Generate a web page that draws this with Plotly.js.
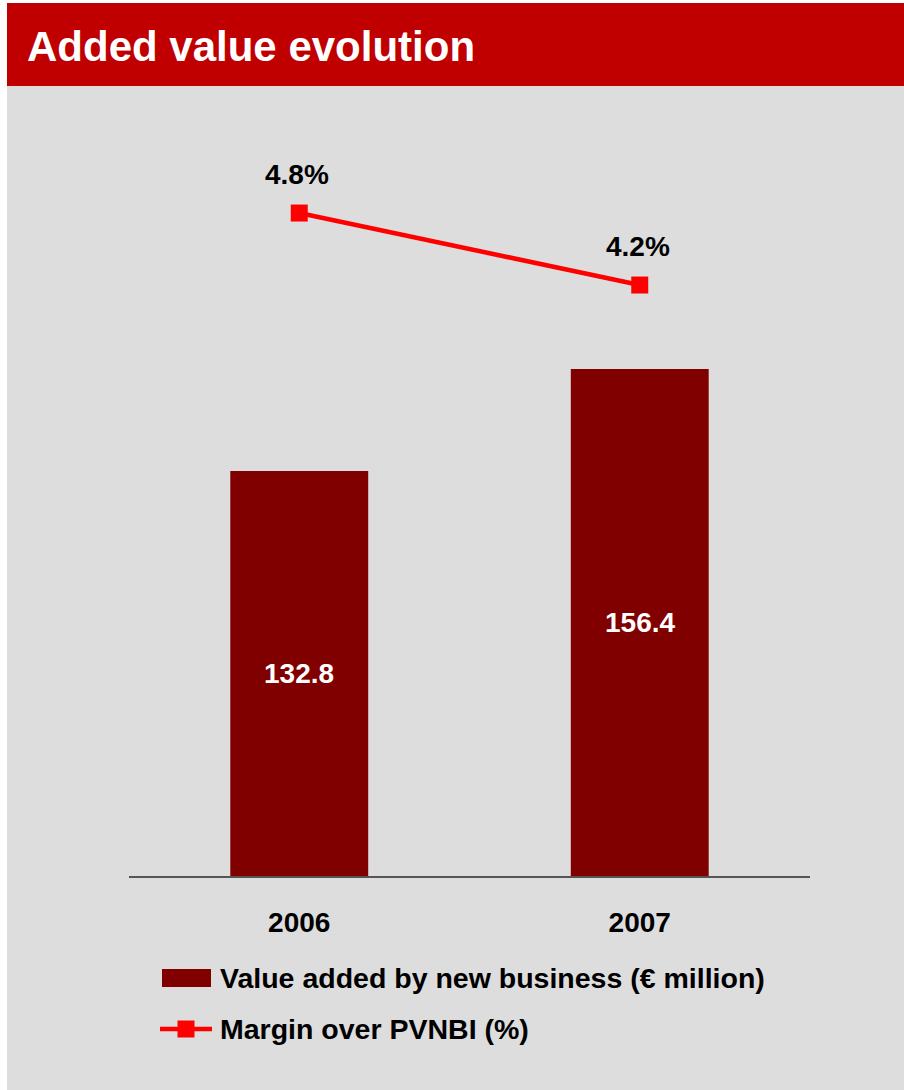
<!DOCTYPE html>
<html>
<head>
<meta charset="utf-8">
<script src="https://cdn.plot.ly/plotly-3.0.1.min.js"></script>
<style>html,body{margin:0;padding:0;background:#fff;}#chart{width:904px;height:1090px;}</style>
</head>
<body>
<div id="chart"></div>
<script>
const years = ['2006', '2007'];
const valueAdded = [132.8, 156.4];
const marginPct = [4.8, 4.2];
const valueLabels = ['132.8', '156.4'];
const marginLabels = ['4.8%', '4.2%'];
const seriesNames = ['Value added by new business (€ million)', 'Margin over PVNBI (%)'];
const chartTitle = 'Added value evolution';

const W = 904, H = 1090;
const L = 129, R = 810, T = 100, B = 876;
const FONT = 'Liberation Sans, Arial, Helvetica, sans-serif';
const RED = '#C00000', BAR = '#800000', LINE = '#FF0000', BG = '#DDDDDD';
const yRange = [39.1, 218.6];
const y2Range = [-0.725, 5.742];

function px(x) { return (x - L) / (R - L); }
function py(y) { return (B - y) / (B - T); }

const traces = [
  {
    type: 'bar', x: years, y: valueAdded, name: seriesNames[0],
    marker: {color: BAR}, width: 0.405, hoverinfo: 'none', yaxis: 'y'
  },
  {
    type: 'scatter', mode: 'lines+markers', x: years, y: marginPct, name: seriesNames[1],
    line: {color: LINE, width: 4.5}, marker: {symbol: 'square', size: 17, color: LINE},
    hoverinfo: 'none', yaxis: 'y2', cliponaxis: false
  }
];

const annotations = [];
years.forEach((yr, i) => {
  annotations.push({
    x: i, y: (yRange[0] + valueAdded[i]) / 2, xref: 'x', yref: 'y',
    text: valueLabels[i], showarrow: false, yanchor: 'middle',
    font: {family: FONT, size: 28, color: '#FFFFFF', weight: 'bold'}
  });
  annotations.push({
    x: i, y: marginPct[i], xref: 'x', yref: 'y2',
    text: marginLabels[i], showarrow: false, yanchor: 'middle', yshift: 39, xshift: -2,
    font: {family: FONT, size: 28, color: '#000000', weight: 'bold'}
  });
});
// legend texts
annotations.push({
  xref: 'paper', yref: 'paper', x: px(218), y: py(978), xanchor: 'left', yanchor: 'middle',
  text: seriesNames[0], showarrow: false,
  font: {family: FONT, size: 28.5, color: '#000000', weight: 'bold'}
});
annotations.push({
  xref: 'paper', yref: 'paper', x: px(218), y: py(1029), xanchor: 'left', yanchor: 'middle',
  text: seriesNames[1], showarrow: false,
  font: {family: FONT, size: 28.5, color: '#000000', weight: 'bold'}
});

const shapes = [
  // title band
  {type: 'rect', xref: 'paper', yref: 'paper', x0: px(7), x1: px(910), y0: py(86), y1: py(3),
   fillcolor: RED, line: {width: 0}, layer: 'below'},
  // white left strip and top strip
  {type: 'rect', xref: 'paper', yref: 'paper', x0: px(-5), x1: px(7), y0: py(1100), y1: py(-5),
   fillcolor: '#FFFFFF', line: {width: 0}, layer: 'below'},
  {type: 'rect', xref: 'paper', yref: 'paper', x0: px(-5), x1: px(910), y0: py(3), y1: py(-5),
   fillcolor: '#FFFFFF', line: {width: 0}, layer: 'below'},
  // legend: bar swatch
  {type: 'rect', xref: 'paper', yref: 'paper', x0: px(162), x1: px(211), y0: py(987), y1: py(969),
   fillcolor: BAR, line: {width: 0}},
  // legend: line swatch
  {type: 'line', xref: 'paper', yref: 'paper', x0: px(160), x1: px(212), y0: py(1029), y1: py(1029),
   line: {color: LINE, width: 4.5}},
  {type: 'rect', xref: 'paper', yref: 'paper', x0: px(177.5), x1: px(194.5), y0: py(1037.5), y1: py(1020.5),
   fillcolor: LINE, line: {width: 0}}
];

const layout = {
  width: W, height: H,
  margin: {l: L, r: W - R, t: T, b: H - B, pad: 0},
  paper_bgcolor: BG, plot_bgcolor: 'rgba(0,0,0,0)',
  showlegend: false,
  title: {
    text: chartTitle, xref: 'container', yref: 'container',
    x: 27 / W, xanchor: 'left', y: 1 - 46 / H, yanchor: 'middle',
    font: {family: FONT, size: 42, color: '#FFFFFF', weight: 'bold'}
  },
  xaxis: {
    type: 'category', range: [-0.5, 1.5], showgrid: false, zeroline: false,
    showline: true, linecolor: '#555555', linewidth: 2, ticks: '',
    ticklabelstandoff: 20,
    tickfont: {family: FONT, size: 28, color: '#000000', weight: 'bold'}
  },
  yaxis: {range: yRange, visible: false, showgrid: false, zeroline: false, fixedrange: true},
  yaxis2: {range: y2Range, overlaying: 'y', visible: false, showgrid: false, zeroline: false},
  annotations: annotations,
  shapes: shapes,
  bargap: 0.2
};

Plotly.newPlot('chart', traces, layout, {displayModeBar: false, staticPlot: true});
</script>
</body>
</html>
